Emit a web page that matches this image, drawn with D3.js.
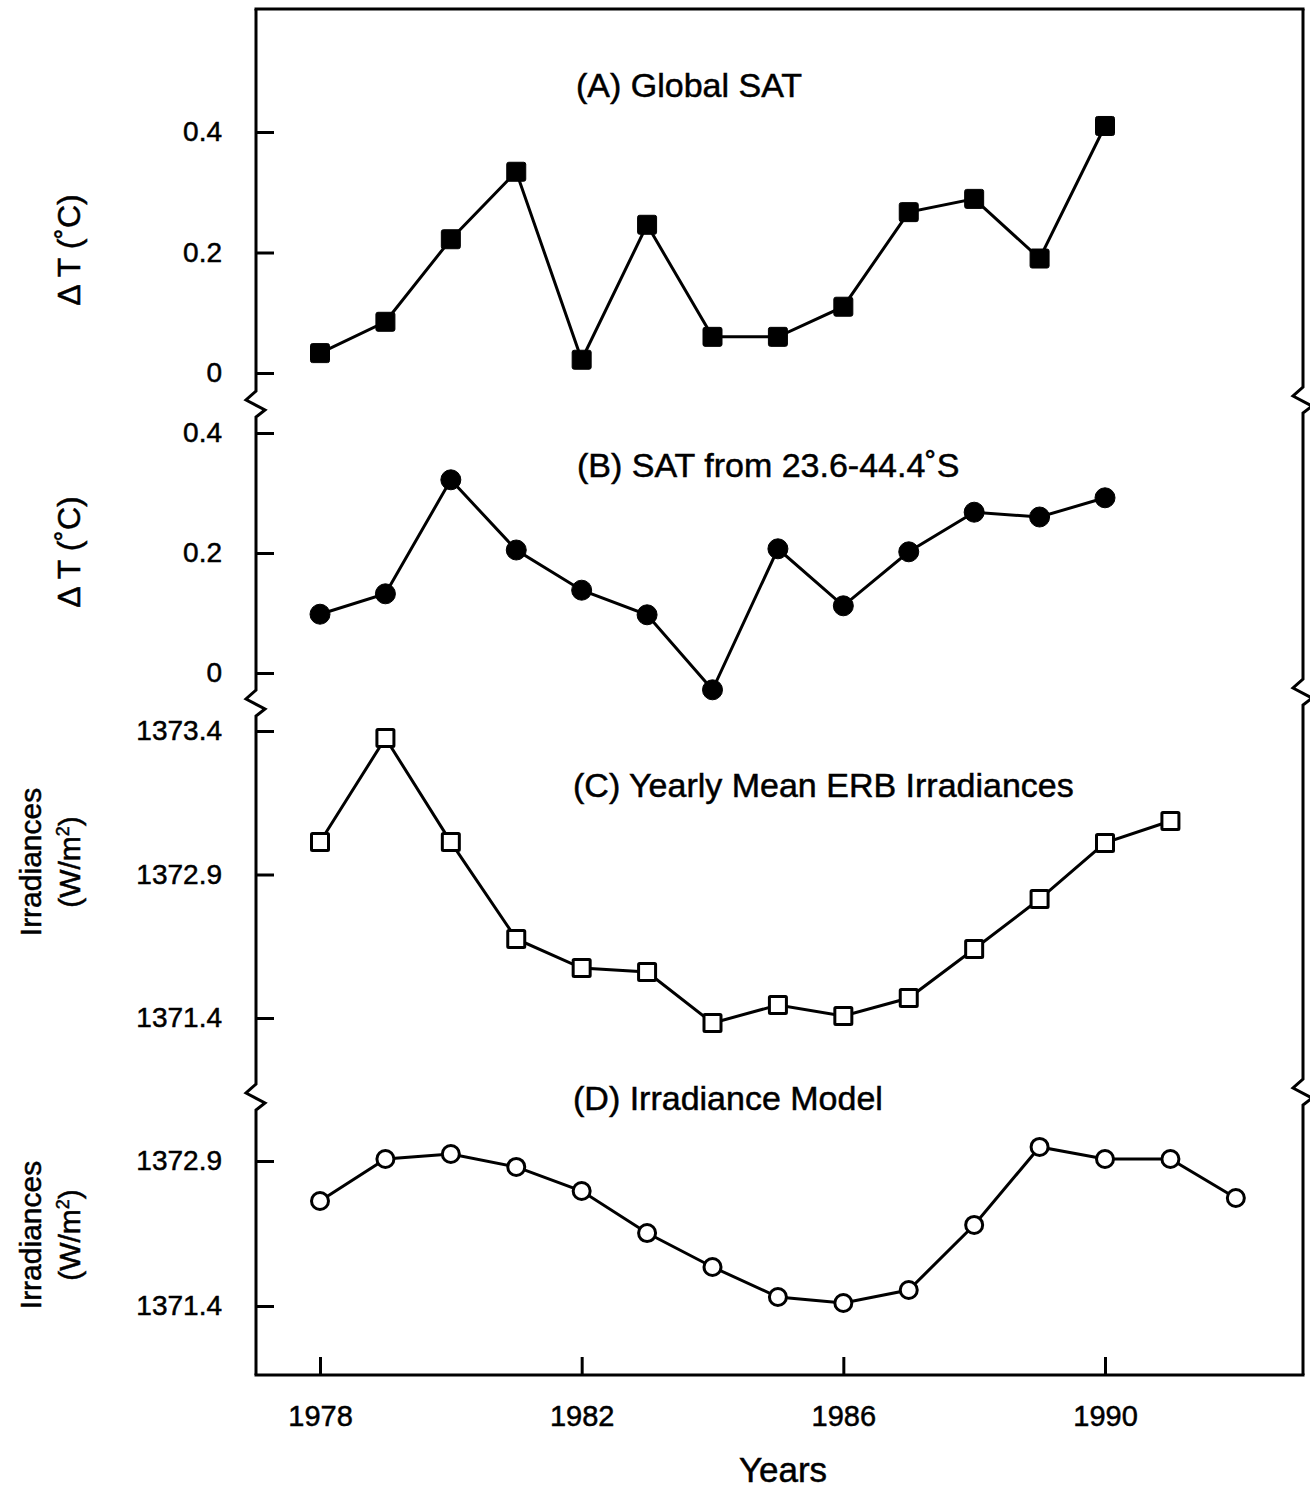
<html>
<head>
<script src="https://d3js.org/d3.v7.min.js"></script>
<style>
body { margin: 0; background: #fff; }
svg { font-family: 'Liberation Sans', Arial, sans-serif; }
svg text { stroke: #000; stroke-width: 0.5; }
</style>
</head>
<body>
<svg width="1310" height="1491"></svg>
<script>
// years and series
var yearsAB = [1978,1979,1980,1981,1982,1983,1984,1985,1986,1987,1988,1989,1990];
var yearsC = [1978,1979,1980,1981,1982,1983,1984,1985,1986,1987,1988,1989,1990,1991];
var yearsD = [1978,1979,1980,1981,1982,1983,1984,1985,1986,1987,1988,1989,1990,1991,1992];

var globalSAT = [0.033,0.085,0.222,0.334,0.022,0.246,0.06,0.06,0.11,0.267,0.289,0.19,0.41];
var southSAT = [0.098,0.132,0.322,0.205,0.138,0.097,-0.028,0.207,0.112,0.202,0.268,0.26,0.292];
var erbIrr = [1372.626,1373.351,1372.626,1371.951,1371.748,1371.72,1371.365,1371.49,1371.414,1371.539,1371.881,1372.229,1372.62,1372.773];
var modelIrr = [1372.124,1372.414,1372.448,1372.359,1372.193,1371.903,1371.669,1371.462,1371.421,1371.51,1371.959,1372.497,1372.414,1372.414,1372.145];

var xTicks = [1978,1982,1986,1990];
var tempTicks = [0,0.2,0.4];
var tempLabels = ["0","0.2","0.4"];
var irrTicksC = [1371.4,1372.4,1373.4];
var irrLabelsC = ["1371.4","1372.9","1373.4"];
var irrTicksD = [1371.4,1372.4];
var irrLabelsD = ["1371.4","1372.9"];

var titles = ["(A) Global SAT","(B) SAT from 23.6-44.4˚S","(C) Yearly Mean ERB Irradiances","(D) Irradiance Model"];

var svg = d3.select("svg");

var frameL = 256, frameR = 1303, frameT = 9, frameB = 1375;

var x = d3.scaleLinear().domain([1978,1990]).range([320,1105]);

var yA = d3.scaleLinear().domain([0,0.4]).range([373,132]);
var yB = d3.scaleLinear().domain([0,0.4]).range([673,433]);
var yC = d3.scaleLinear().domain([1371.4,1373.4]).range([1018,731]);
var yD = d3.scaleLinear().domain([1371.4,1372.4]).range([1306,1161]);

// frame with break marks
function sideWithBreaks(px, breaks) {
  var p = d3.path();
  p.moveTo(px, frameT);
  breaks.forEach(function(b) {
    p.lineTo(px, b - 13);
    p.lineTo(px - 10, b - 4);
    p.lineTo(px + 9, b + 6);
    p.lineTo(px, b + 13);
  });
  p.lineTo(px, frameB);
  return p.toString();
}

var frame = svg.append("g").attr("fill","none").attr("stroke","#000").attr("stroke-width",3)
  .attr("stroke-linejoin","miter");
frame.append("path").attr("d", sideWithBreaks(frameL, [404,703,1097]));
frame.append("path").attr("d", sideWithBreaks(frameR, [400,692,1092]));
frame.append("line").attr("x1",frameL-1.5).attr("x2",frameR+1.5).attr("y1",frameT).attr("y2",frameT);
frame.append("line").attr("x1",frameL-1.5).attr("x2",frameR+1.5).attr("y1",frameB).attr("y2",frameB);

// x axis
var xAxis = d3.axisBottom(x).tickValues(xTicks).tickSize(-18).tickPadding(30).tickFormat(d3.format("d"));
var gx = svg.append("g").attr("transform","translate(0," + frameB + ")").call(xAxis);
gx.select(".domain").remove();
gx.selectAll("line").attr("stroke-width",3);
gx.selectAll("text").attr("font-size",29).attr("fill","#000");

svg.append("text").attr("x",783).attr("y",1482).attr("text-anchor","middle")
  .attr("font-size",35).text("Years");

// y axes
function yAxis(scale, ticks, labels) {
  var ax = d3.axisLeft(scale).tickValues(ticks).tickSize(-18).tickPadding(34)
    .tickFormat(function(d, i) { return labels[i]; });
  var g = svg.append("g").attr("transform","translate(" + frameL + ",0)").call(ax);
  g.select(".domain").remove();
  g.selectAll("line").attr("stroke-width",3);
  g.selectAll("text").attr("font-size",28).attr("fill","#000");
}
yAxis(yA, tempTicks, tempLabels);
yAxis(yB, tempTicks, tempLabels);
yAxis(yC, irrTicksC, irrLabelsC);
yAxis(yD, irrTicksD, irrLabelsD);

// y labels
function tempLabel(cy) {
  svg.append("text").attr("transform","translate(80," + cy + ") rotate(-90)")
    .attr("text-anchor","middle").attr("font-size",32).text("Δ T (˚C)");
}
tempLabel(250);
tempLabel(552);

function irrLabel(cy) {
  var t = svg.append("text").attr("transform","translate(0," + cy + ") rotate(-90)")
    .attr("text-anchor","middle").attr("font-size",30);
  t.append("tspan").attr("x",0).attr("y",41).text("Irradiances");
  var t2 = t.append("tspan").attr("x",0).attr("y",80).text("(W/m");
  t2.append("tspan").attr("font-size",18).attr("dy",-11).text("2");
  t.append("tspan").attr("dy",11).text(")");
}
irrLabel(862);
irrLabel(1235);

// titles
var titlePos = [[576,97],[577,477],[573,797],[573,1110]];
titles.forEach(function(t, i) {
  svg.append("text").attr("x",titlePos[i][0]).attr("y",titlePos[i][1])
    .attr("font-size",34).text(t);
});

// series
var line = function(ys) {
  return d3.line().x(function(d) { return x(d[0]); }).y(function(d) { return ys(d[1]); });
};

function drawSeries(years, vals, ys, marker, filled) {
  var data = years.map(function(yr, i) { return [yr, vals[i]]; });
  svg.append("path").datum(data).attr("d", line(ys)).attr("fill","none")
    .attr("stroke","#000").attr("stroke-width",3);
  var g = svg.append("g");
  if (marker == "square") {
    var s = filled ? 19 : 17;
    g.selectAll("rect").data(data).enter().append("rect")
      .attr("x", function(d) { return x(d[0]) - s/2; })
      .attr("y", function(d) { return ys(d[1]) - s/2; })
      .attr("width", s).attr("height", s)
      .attr("rx", filled ? 2 : 1)
      .attr("fill", filled ? "#000" : "#fff")
      .attr("stroke","#000").attr("stroke-width", filled ? 1 : 3);
  } else {
    g.selectAll("circle").data(data).enter().append("circle")
      .attr("cx", function(d) { return x(d[0]); })
      .attr("cy", function(d) { return ys(d[1]); })
      .attr("r", filled ? 10 : 8.5)
      .attr("fill", filled ? "#000" : "#fff")
      .attr("stroke","#000").attr("stroke-width", filled ? 1 : 3);
  }
}

drawSeries(yearsAB, globalSAT, yA, "square", true);
drawSeries(yearsAB, southSAT, yB, "circle", true);
drawSeries(yearsC, erbIrr, yC, "square", false);
drawSeries(yearsD, modelIrr, yD, "circle", false);
</script>
</body>
</html>
